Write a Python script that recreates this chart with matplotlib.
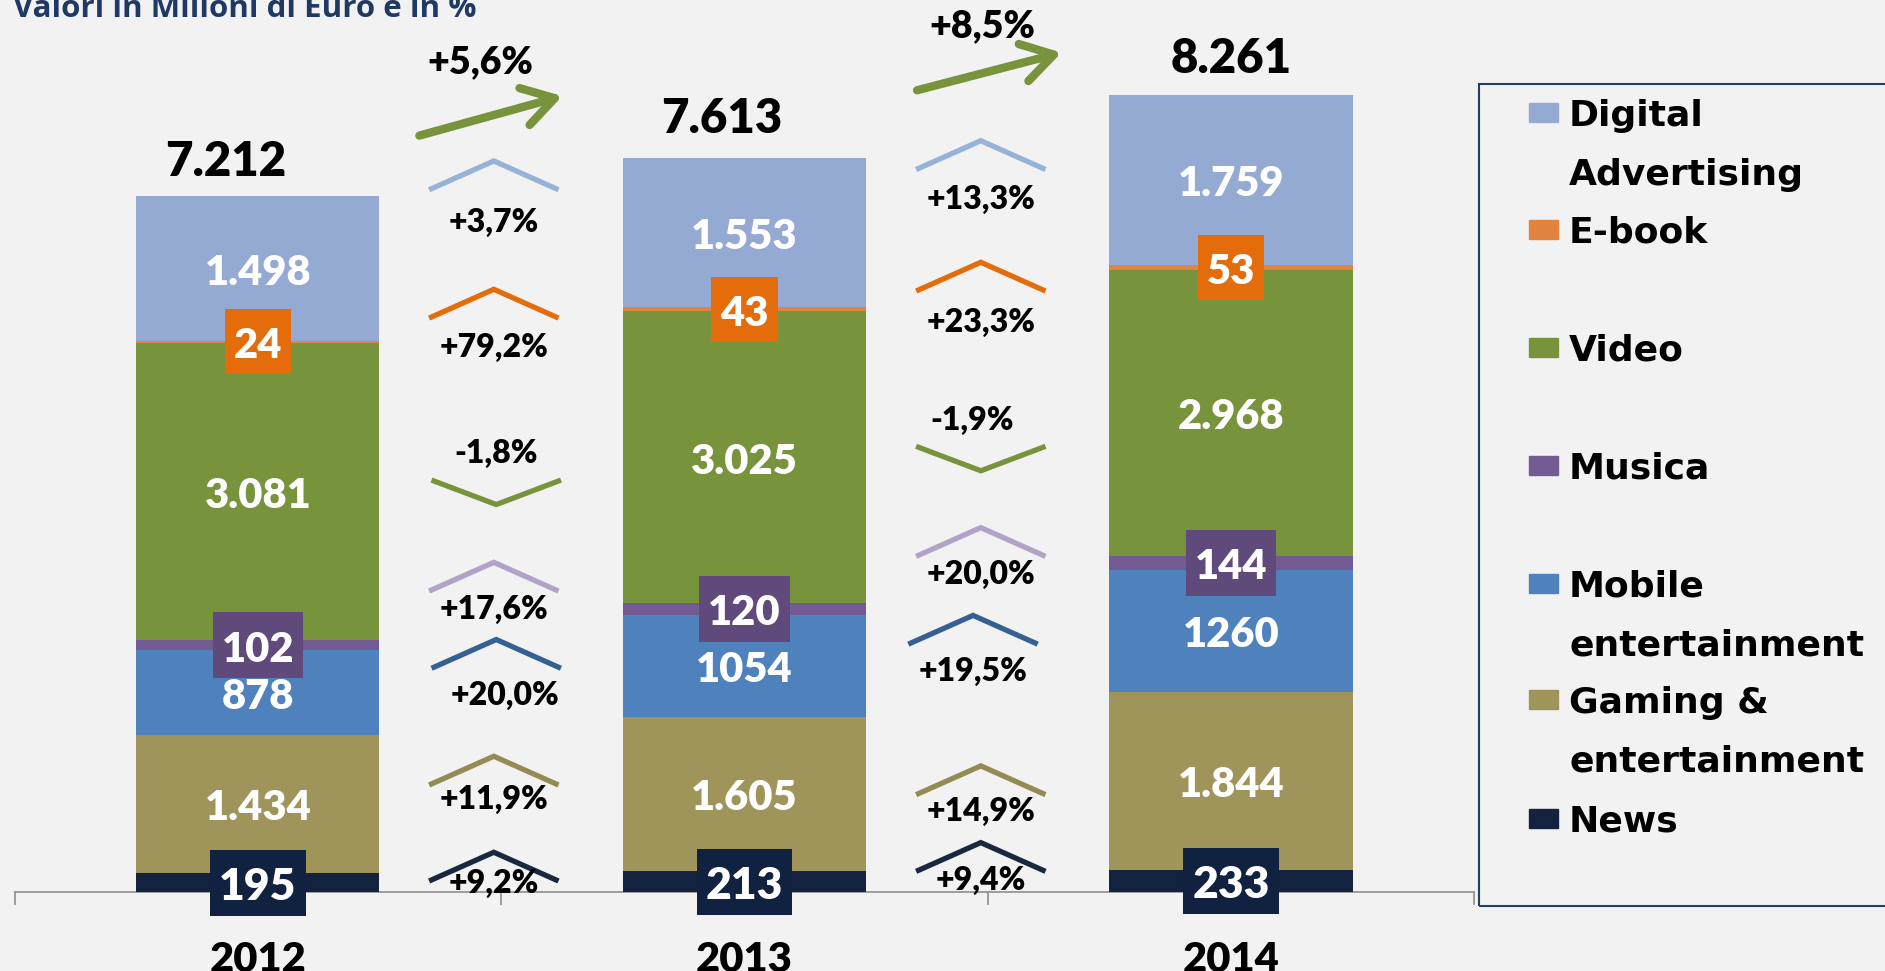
"""
Mercato dei contenuti digitali in Italia 2012-2014: barre impilate
con variazioni percentuali tra un anno e l'altro.
"""
import matplotlib
matplotlib.use('Agg')
import matplotlib.pyplot as plt
from matplotlib.patches import Rectangle
import numpy as np

plt.rcParams['font.family'] = ['Lato', 'DejaVu Sans']

ANNI = ['2012', '2013', '2014']

# serie dal basso verso l'alto
SERIE = ['News', 'Gaming & entertainment', 'Mobile entertainment',
         'Musica', 'Video', 'E-book', 'Digital Advertising']
NEWS = [195, 213, 233]
GAMING = [1434, 1605, 1844]
MOBILE = [878, 1054, 1260]
MUSICA = [102, 120, 144]
VIDEO = [3081, 3025, 2968]
EBOOK = [24, 43, 53]
DIGITAL = [1498, 1553, 1759]
TOTALI = [7212, 7613, 8261]

# variazioni % (stesso ordine di SERIE)
CRESCITA_13 = [9.2, 11.9, 20.0, 17.6, -1.8, 79.2, 3.7]
CRESCITA_14 = [9.4, 14.9, 19.5, 20.0, -1.9, 23.3, 13.3]
CRESCITA_TOT = [5.6, 8.5]

LEGENDA = ['Digital\nAdvertising', 'E-book', 'Video', 'Musica',
           'Mobile\nentertainment', 'Gaming &\nentertainment', 'News']

_COR = {
    'Digital Advertising':    '#95AAD2',
    'E-book':                 '#E0843F',
    'Video':                  '#77933C',
    'Musica':                 '#735A92',
    'Mobile entertainment':   '#4F81BD',
    'Gaming & entertainment': '#9F955B',
    'News':                   '#13233F',
}
_COR_CHEV = {
    'Digital Advertising':    '#95B3D7',
    'E-book':                 '#E46C0A',
    'Video':                  '#77933C',
    'Musica':                 '#B3A2C7',
    'Mobile entertainment':   '#376092',
    'Gaming & entertainment': '#948A54',
    'News':                   '#17283F',
}
# etichette in riquadro: colore, dimensione font, altezza riquadro (px)
_BOX = {
    'E-book': ('#E46C0A', 30, 65),
    'Musica': ('#604A7B', 30, 66),
    'News':   ('#112240', 32, 66),
}
_SENZA_PUNTO = {'Mobile entertainment'}
_PESO = 'heavy'

# posizione (estremi) dei "chevron" e scostamento delle etichette, in unità dati
_CHEV_Y = [
    [125, 1120, 2330, 3130, 4260, 5960, 7290],
    [225, 1020, 2580, 3490, 4610, 6240, 7500],
]
_CHEV_DX = [
    [0, 0, 0.005, 0, 0.005, 0, 0],
    [0, 0, -0.016, 0, 0, 0, 0],
]
_LAB_DY = [
    [-40, -160, -290, -200, 290, -320, -350],
    [-110, -190, -290, -200, 275, -340, -320],
]
_LAB_DX = [
    [0, 0, 0.022, 0, 0.005, 0, 0],
    [0, 0, -0.016, 0, -0.017, 0, 0],
]
_GAP_X = [0.485, 1.486]
_CHEV_HW, _CHEV_H = 0.128, 287

_TOT_DX = [-0.066, -0.047, 0.0]
_TOT_DY = [210, 250, 225]

_FIG_W, _FIG_H = 18.85, 9.71
_BG = '#F2F2F2'
_PX_X = 1 / 486.5     # unità x per pixel
_PX_Y = 10.365        # unità y per pixel


def _fmt(v, nome):
    if nome in _SENZA_PUNTO:
        return str(v)
    return f'{v:,}'.replace(',', '.')


def _pct(p):
    return f'{p:+.1f}%'.replace('.', ',')


def _fpx(x, y):
    # pixel (dall'alto) -> frazione di figura
    return x / 1885, 1 - y / 971


fig = plt.figure(figsize=(_FIG_W, _FIG_H), dpi=100)
fig.patch.set_facecolor(_BG)
ax = fig.add_axes([0, 0, 1, 1])
ax.set_facecolor(_BG)
ax.set_xlim(-0.530, 3.3445)
ax.set_ylim(-818.8, 9245.6)
ax.axis('off')

x = np.arange(len(ANNI))
valori = [NEWS, GAMING, MOBILE, MUSICA, VIDEO, EBOOK, DIGITAL]

# asse orizzontale con tacche
ax.plot([-0.5, 2.5], [0, 0], color='#959595', lw=1.3, zorder=1)
for xt in [-0.5, 0.5, 1.5, 2.5]:
    ax.plot([xt, xt], [0, -125], color='#959595', lw=1.3, zorder=1)

bottom = np.zeros(len(ANNI))
for nome, vals in zip(SERIE, valori):
    vals = np.array(vals)
    ax.bar(x, vals, 0.5, bottom=bottom, color=_COR[nome], zorder=2)
    centri = bottom + vals / 2
    for xi, c, v in zip(x, centri, vals):
        testo = _fmt(v, nome)
        if nome in _BOX:
            fc, fs, h_px = _BOX[nome]
            w_px = len(testo) * fs * 1.389 * 0.58 + 18
            ax.add_patch(Rectangle((xi - w_px * _PX_X / 2, c - h_px * _PX_Y / 2),
                                   w_px * _PX_X, h_px * _PX_Y, fc=fc, ec='none',
                                   zorder=4))
        else:
            fs = 30
        ax.text(xi, c - 45, testo, ha='center', va='center', fontsize=fs,
                weight=_PESO, color='white', zorder=5)
    bottom += vals

for xi, tot, dx, dy in zip(x, TOTALI, _TOT_DX, _TOT_DY):
    ax.text(xi + dx, tot + dy, f'{tot:,}'.replace(',', '.'), ha='center',
            va='baseline', fontsize=34, weight=_PESO, color='black')

for xi, anno in zip(x, ANNI):
    ax.text(xi, -830, anno, ha='center', va='baseline', fontsize=30,
            weight=_PESO, color='black')

# chevron con variazioni per serie
for g, crescite in enumerate([CRESCITA_13, CRESCITA_14]):
    for k, (nome, p) in enumerate(zip(SERIE, crescite)):
        gx = _GAP_X[g] + _CHEV_DX[g][k]
        y0 = _CHEV_Y[g][k]
        punta = y0 + _CHEV_H if p >= 0 else y0 - _CHEV_H * 0.85
        ax.plot([gx - _CHEV_HW, gx, gx + _CHEV_HW], [y0, punta, y0],
                color=_COR_CHEV[nome], lw=3.8, solid_joinstyle='miter',
                zorder=3)
        ax.text(_GAP_X[g] + _LAB_DX[g][k], y0 + _LAB_DY[g][k], _pct(p),
                ha='center', va='center', fontsize=23, weight=_PESO,
                color='black', zorder=4)

# frecce della crescita totale
_FRECCE = [((0.332, 7840), (0.626, 8250)), ((1.355, 8310), (1.652, 8700))]
_LAB_TOT = [(0.458, 8600), (1.489, 8970)]
for (p0, p1), (lx, ly), p in zip(_FRECCE, _LAB_TOT, CRESCITA_TOT):
    ax.annotate('', xy=p1, xytext=p0,
                arrowprops=dict(arrowstyle='->,head_length=0.9,head_width=0.55',
                                color='#77933C', lw=6, mutation_scale=25,
                                shrinkA=0, shrinkB=0), zorder=4)
    ax.text(lx, ly, _pct(p), ha='center', va='center', fontsize=27,
            weight=_PESO, color='black')

# titolo (tagliato in alto come nell'originale)
fig.text(*_fpx(13, 17), 'Valori in Milioni di Euro e in %', color='#1F3864',
         fontsize=22.5, weight='bold', family='Open Sans', ha='left',
         va='baseline')

# legenda disegnata a mano
bx0, by0 = _fpx(1479, 906)
fig.add_artist(Rectangle((bx0, by0), (1900 - 1479) / 1885, (906 - 84) / 971,
                         transform=fig.transFigure, fill=False,
                         edgecolor='#243F60', lw=1.5))
_LEG_Y = [113.0, 229.6, 347.4, 465.3, 583.1, 699.7, 818.7]
for etichetta, nome, yc in zip(LEGENDA, SERIE[::-1], _LEG_Y):
    px0, py0 = _fpx(1529, yc + 9.5)
    fig.add_artist(Rectangle((px0, py0), 29 / 1885, 19 / 971,
                             transform=fig.transFigure, color=_COR[nome]))
    for r, riga in enumerate(etichetta.split('\n')):
        fig.text(*_fpx(1569, yc + 13 + r * 58.9), riga, fontsize=26,
                 weight='bold', family='DejaVu Sans', color='black',
                 ha='left', va='baseline')

fig.savefig('out.png', dpi=100, facecolor=_BG)
plt.close(fig)
